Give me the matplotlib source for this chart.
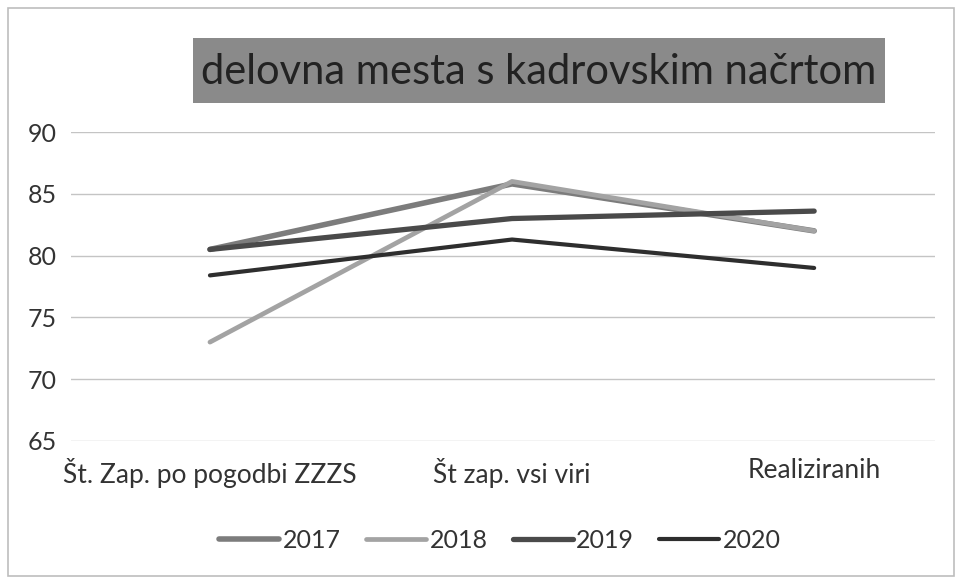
import matplotlib
matplotlib.use("Agg")
import matplotlib.pyplot as plt
from matplotlib.patches import Rectangle

categories = ["Št. Zap. po pogodbi ZZZS", "Št zap. vsi viri", "Realiziranih"]
series_names = ["2017", "2018", "2019", "2020"]
v2017 = [80.5, 85.8, 82.0]
v2018 = [73.0, 86.0, 82.0]
v2019 = [80.5, 83.0, 83.6]
v2020 = [78.4, 81.3, 79.0]
yticks = [65, 70, 75, 80, 85, 90]
title = "delovna mesta s kadrovskim načrtom"

values = [v2017, v2018, v2019, v2020]
colors = ["#7c7c7c", "#a3a3a3", "#4a4a4a", "#2e2e2e"]
widths = [4.0, 3.4, 3.8, 3.0]

plt.rcParams['font.family'] = ['Lato', 'DejaVu Sans']

W, H = 960, 580
fig = plt.figure(figsize=(W / 100, H / 100), dpi=100)
fig.patch.set_facecolor("white")

# outer border
fig.patches.append(Rectangle((8 / W, 4 / H), 946 / W, 568 / H, transform=fig.transFigure,
                             fill=False, edgecolor="#bdbdbd", linewidth=1.2))

ax = fig.add_axes([71 / W, 1 - 441 / H, (935 - 71) / W, (441 - 132) / H])
x = list(range(len(categories)))
for name, vals, c, lw in zip(series_names, values, colors, widths):
    ax.plot(x, vals, color=c, linewidth=lw, solid_capstyle="round", label=name)

ax.set_xlim(-0.46, 2.4)
ax.set_ylim(65, 90)
ax.set_yticks(yticks)
ax.set_xticks(x)
ax.set_xticklabels(categories, fontsize=19, color="#333333")
ax.tick_params(axis="y", labelsize=18, colors="#333333", length=0, pad=10)
ax.tick_params(axis="x", length=0, pad=12)
ax.grid(axis="y", color="#c4c4c4", linewidth=1.0)
ax.set_axisbelow(True)
for s in ax.spines.values():
    s.set_visible(False)

# title box
fig.patches.append(Rectangle((193 / W, 1 - 103 / H), (885 - 193) / W, (103 - 38) / H,
                             transform=fig.transFigure, facecolor="#8a8a8a",
                             edgecolor="none"))
fig.text(539 / W, 1 - 72 / H, title, ha="center", va="center", fontsize=30,
         color="#222222")

leg = fig.legend(loc="center", bbox_to_anchor=(500 / W, 1 - 540 / H), ncol=4,
                 frameon=False, fontsize=18, handlelength=2.4, columnspacing=1.0,
                 handletextpad=0.15)
for t in leg.get_texts():
    t.set_color("#333333")

fig.savefig("out.png", dpi=100, facecolor="white")
